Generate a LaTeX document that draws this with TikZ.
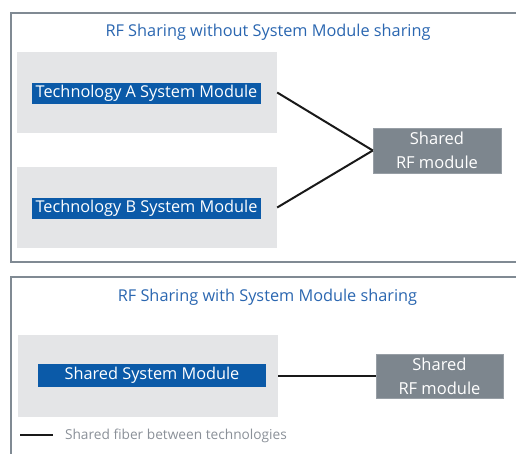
\documentclass[tikz,border=0pt]{standalone}
\usepackage{fontspec}
\setmainfont{Open Sans}
\usepackage{tikz}
\usetikzlibrary{arrows.meta}

\definecolor{nokiablue}{HTML}{0B5AA8}
\definecolor{titleblue}{HTML}{2A66B0}
\definecolor{framegray}{HTML}{808A93}
\definecolor{boxgray}{HTML}{E4E5E7}
\definecolor{rfgray}{HTML}{7D868E}
\definecolor{legendgray}{HTML}{8A9098}

\begin{document}
\begin{tikzpicture}[x=1pt, y=-1pt, >=Stealth,
    every node/.style={font=\fontsize{16.3}{19}\selectfont},
    frame/.style={draw=framegray, line width=1.8pt},
    title/.style={text=titleblue},
    sysbox/.style={fill=boxgray, minimum width=260pt, minimum height=81pt, inner sep=0pt},
    label/.style={fill=nokiablue, text=white, minimum width=229pt, minimum height=21pt, inner sep=0pt},
    rfbox/.style={fill=rfgray, text=white, draw=rfgray!80!white, minimum width=128pt, minimum height=45pt, inner sep=0pt, align=center, font=\fontsize{16.5}{24}\selectfont},
    fiber/.style={line width=2pt, black!90}]
                \useasboundingbox (0,0) rectangle (516,453);
                \clip (0,0) rectangle (516,453);

                % Marcos
                \draw[frame] (10.7,12.7) rectangle (530,261.7);
                \draw[frame] (10.7,277) rectangle (530,470);

                % Sin compartir System Module
                \node[title] (title1) at (268,32) {RF Sharing without System Module sharing};
                \node[sysbox] (boxA) at (147,92.5) {};
                \node[label] (labelA) at (146.5,93.5) {Technology A System Module};
                \node[sysbox] (boxB) at (147,207.5) {};
                \node[label] (labelB) at (146.5,208) {Technology B System Module};
                \node[rfbox] (rf1) at (437,150.5) {Shared\\RF module};

                \draw[fiber] (boxA.east) -- (rf1.west);
                \draw[fiber] (boxB.east) -- (rf1.west);

                % Con System Module compartido
                \node[title] (title2) at (267.5,297) {RF Sharing with System Module sharing};
                \node[sysbox, minimum height=82pt] (boxS) at (148,376) {};
                \node[label, minimum width=228pt, minimum height=23pt] (labelS) at (152,375.5) {Shared System Module};
                \node[rfbox, minimum width=127pt, minimum height=44pt] (rf2) at (439.5,376) {Shared\\RF module};

                \draw[fiber] (boxS.east) -- (rf2.west);

                % Leyenda
                \coordinate (leg1) at (20,435);
                \coordinate (leg2) at (53,435);
                \draw[fiber, line width=2.8pt] (leg1) -- (leg2);
                \node[anchor=west, text=legendgray, font=\fontsize{13.7}{16}\selectfont] (legend) at (61.5,436) {Shared fiber between technologies};
            \end{tikzpicture}
\end{document}
